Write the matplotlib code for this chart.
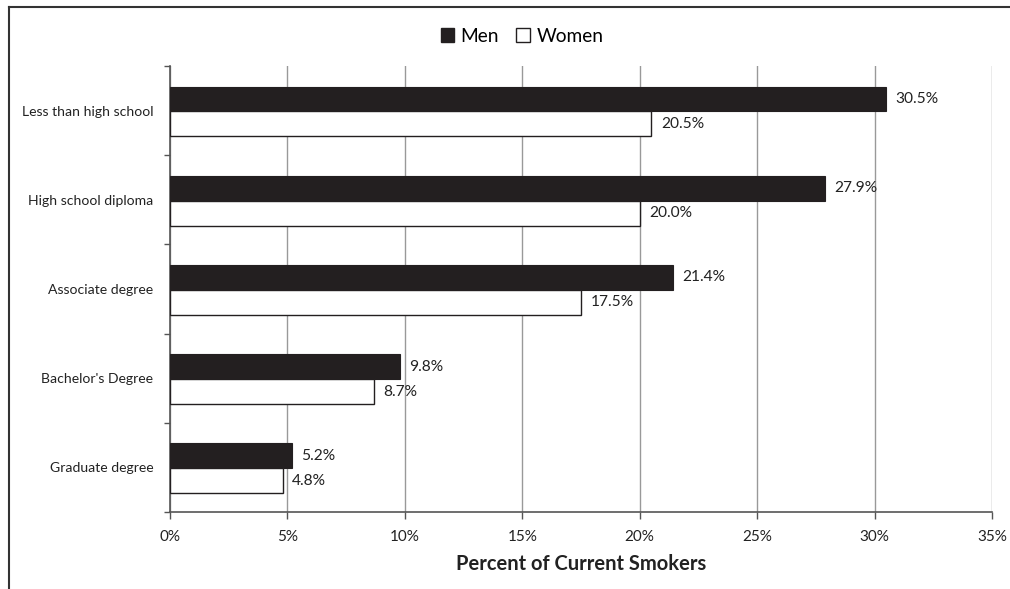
import matplotlib
matplotlib.use("Agg")
import matplotlib.pyplot as plt
from matplotlib.patches import Patch
import numpy as np

categories = ["Less than high school", "High school diploma", "Associate degree",
              "Bachelor's Degree", "Graduate degree"]
men = [30.5, 27.9, 21.4, 9.8, 5.2]
women = [20.5, 20.0, 17.5, 8.7, 4.8]
xticks = [0, 5, 10, 15, 20, 25, 30, 35]
xticklabels = ["0%", "5%", "10%", "15%", "20%", "25%", "30%", "35%"]

plt.rcParams['font.family'] = ['Lato', 'DejaVu Sans']

fig = plt.figure(figsize=(10.1, 5.89), dpi=100)
ax = fig.add_axes([170/1010, 1-512/589, (992-170)/1010, (512-66)/589])

y = np.arange(len(categories))
h = 0.28
dark = '#231f20'
ax.barh(y - h/2 + 0.01, men, height=h, color=dark, edgecolor=dark, linewidth=0.8, zorder=3)
ax.barh(y + h/2 + 0.01, women, height=h, color='white', edgecolor=dark, linewidth=1.0, zorder=3)

for yi, v in zip(y, men):
    ax.text(v + 0.4, yi - h/2 + 0.01, f"{v:.1f}%", va='center', ha='left', fontsize=11.2, color='#222222')
for yi, v in zip(y, women):
    ax.text(v + 0.4, yi + h/2 + 0.01, f"{v:.1f}%", va='center', ha='left', fontsize=11.2, color='#222222')

ax.set_xlim(0, 35)
ax.set_ylim(len(categories) - 0.5, -0.5)
ax.set_xticks(xticks)
ax.set_xticklabels(xticklabels, fontsize=11, color='#222222')
ax.set_yticks(y)
ax.set_yticklabels(categories, fontsize=10.1, color='#222222')
ax.set_yticks(np.arange(-0.5, len(categories), 1.0), minor=True)
ax.tick_params(axis='y', which='major', length=0, pad=12)
ax.tick_params(axis='y', which='minor', length=4, color='#555555', width=1)
ax.tick_params(axis='x', which='major', length=5, color='#555555', width=1, pad=8, direction='out')
ax.xaxis.grid(True, color='#999999', linewidth=1, zorder=0)
ax.set_axisbelow(True)
for s in ['top', 'right']:
    ax.spines[s].set_visible(False)
for s in ['left', 'bottom']:
    ax.spines[s].set_color('#555555')
    ax.spines[s].set_linewidth(1.2)
ax.set_xlabel("Percent of Current Smokers", fontsize=14.5, fontweight='bold', color='#222222', labelpad=7)

handles = [Patch(facecolor=dark, edgecolor=dark, label='Men'),
           Patch(facecolor='white', edgecolor=dark, label='Women')]
fig.legend(handles=handles, loc='center', bbox_to_anchor=(522/1010, 1-36/589), ncol=2,
           frameon=False, fontsize=13.8, handlelength=0.7, handleheight=0.7,
           handletextpad=0.35, columnspacing=0.9)

# frame lines (top and left)
fig.add_artist(plt.Line2D([9/1010, 1.0], [1-7/589, 1-7/589], color='#333333', linewidth=1.5, transform=fig.transFigure))
fig.add_artist(plt.Line2D([9/1010, 9/1010], [1-7/589, 0], color='#333333', linewidth=1.5, transform=fig.transFigure))

fig.savefig("out.png", dpi=100, facecolor='white')
